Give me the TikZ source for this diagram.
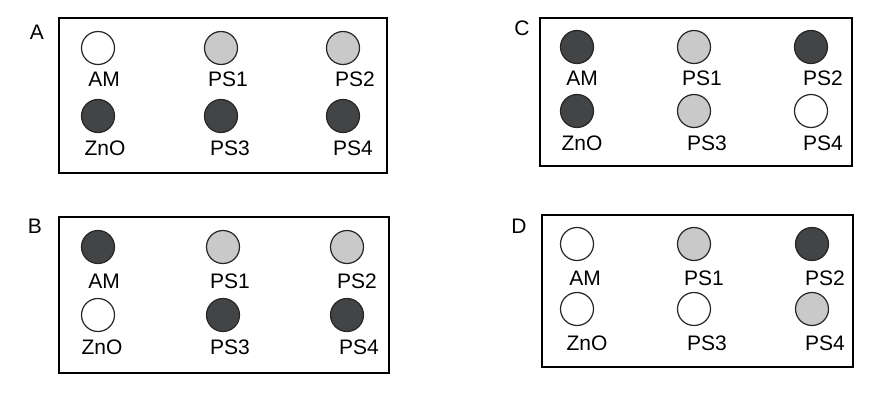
\documentclass[tikz,border=0pt]{standalone}
\usepackage{fontspec}
\setmainfont{Liberation Sans}
\definecolor{darkdot}{RGB}{66,68,70}
\definecolor{lightdot}{RGB}{200,201,200}
\tikzset{
  dot/.style={circle,draw=black!85,line width=1.2pt,minimum size=33pt,inner sep=0pt},
  off/.style={dot,fill=white},
  mid/.style={dot,fill=lightdot},
  on/.style={dot,fill=darkdot},
  lbl/.style={font=\fontsize{21}{24}\selectfont,inner sep=0pt},
  panel/.style={draw,line width=2.6pt},
}
\begin{document}
\begin{tikzpicture}[x=1pt,y=-1pt]
\useasboundingbox (0,0) rectangle (886,412);
% panel A
\draw[panel] (59,18) rectangle (387,173);
\node[lbl] (tA) at (37,32) {A};
\node[off] (aAM) at (98,48) {};
\node[mid] (aPS1) at (221,48) {};
\node[mid] (aPS2) at (343,48) {};
\node[on] (aZnO) at (98,116) {};
\node[on] (aPS3) at (221,116) {};
\node[on] (aPS4) at (343,116) {};
\node[lbl] (laAM) at (104,79) {AM};
\node[lbl] (laPS1) at (228,79) {PS1};
\node[lbl] (laPS2) at (355,79) {PS2};
\node[lbl] (laZnO) at (105,148) {ZnO};
\node[lbl] (laPS3) at (230,148) {PS3};
\node[lbl] (laPS4) at (353,148) {PS4};
% panel B
\draw[panel] (59,217) rectangle (389,373);
\node[lbl] (tB) at (35,226) {B};
\node[on] (bAM) at (98,247) {};
\node[mid] (bPS1) at (223,247) {};
\node[mid] (bPS2) at (347,247) {};
\node[off] (bZnO) at (98,315) {};
\node[on] (bPS3) at (223,315) {};
\node[on] (bPS4) at (347,315) {};
\node[lbl] (lbAM) at (104,281) {AM};
\node[lbl] (lbPS1) at (230,281) {PS1};
\node[lbl] (lbPS2) at (357,281) {PS2};
\node[lbl] (lbZnO) at (102,347) {ZnO};
\node[lbl] (lbPS3) at (230,347) {PS3};
\node[lbl] (lbPS4) at (359,347) {PS4};
% panel C
\draw[panel] (540,18) rectangle (852,166);
\node[lbl] (tC) at (522,28) {C};
\node[on] (cAM) at (577,47) {};
\node[mid] (cPS1) at (694,47) {};
\node[on] (cPS2) at (811,47) {};
\node[on] (cZnO) at (577,111) {};
\node[mid] (cPS3) at (694,111) {};
\node[off] (cPS4) at (811,111) {};
\node[lbl] (lcAM) at (582,78) {AM};
\node[lbl] (lcPS1) at (702,78) {PS1};
\node[lbl] (lcPS2) at (823,78) {PS2};
\node[lbl] (lcZnO) at (582,143) {ZnO};
\node[lbl] (lcPS3) at (707,143) {PS3};
\node[lbl] (lcPS4) at (823,143) {PS4};
% panel D
\draw[panel] (542,215) rectangle (853,367);
\node[lbl] (tD) at (519,226) {D};
\node[off] (dAM) at (577,244) {};
\node[mid] (dPS1) at (694,244) {};
\node[on] (dPS2) at (812,244) {};
\node[off] (dZnO) at (577,309) {};
\node[off] (dPS3) at (694,309) {};
\node[mid] (dPS4) at (812,309) {};
\node[lbl] (ldAM) at (585,278) {AM};
\node[lbl] (ldPS1) at (704,278) {PS1};
\node[lbl] (ldPS2) at (825,278) {PS2};
\node[lbl] (ldZnO) at (587,343) {ZnO};
\node[lbl] (ldPS3) at (707,343) {PS3};
\node[lbl] (ldPS4) at (825,343) {PS4};
\end{tikzpicture}
\end{document}
